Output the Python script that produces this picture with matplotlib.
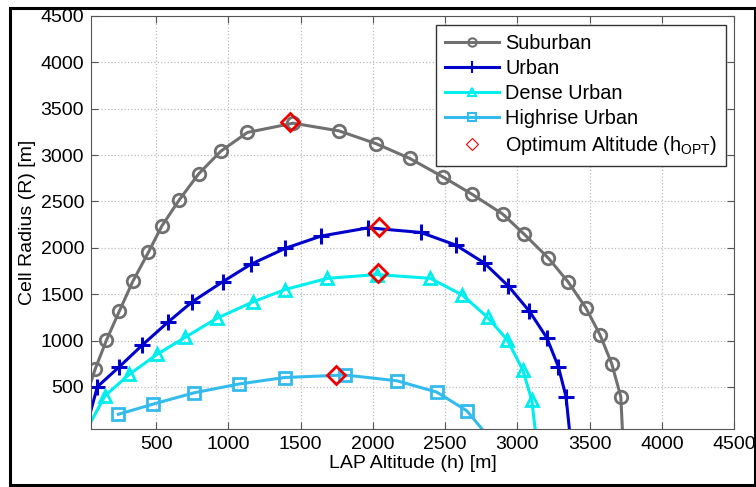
import matplotlib.pyplot as plt
from matplotlib.lines import Line2D
from matplotlib.patches import Rectangle

plt.rcParams['font.family'] = ['Liberation Sans', 'DejaVu Sans']

# curve points; the first / last entries are where the line leaves the axes
suburban_x = [50, 78, 156, 246, 339, 447, 541, 661, 795, 948, 1132, 1448, 1766, 2020,
              2256, 2484, 2689, 2899, 3049, 3215, 3351, 3474, 3572, 3653, 3716, 3727]
suburban_y = [556, 690, 1002, 1318, 1638, 1952, 2238, 2518, 2798, 3042, 3244, 3344, 3261, 3125,
              2964, 2766, 2576, 2364, 2145, 1889, 1634, 1354, 1063, 753, 395, 50]

urban_x = [50, 94, 246, 405, 581, 751, 961, 1155, 1393, 1642, 1969, 2332, 2574, 2772,
           2938, 3083, 3204, 3284, 3337, 3360]
urban_y = [251, 503, 718, 952, 1197, 1419, 1634, 1822, 1994, 2127, 2216, 2166, 2030, 1836,
           1588, 1318, 1031, 718, 395, 50]

dense_x = [50, 147, 315, 507, 701, 920, 1173, 1393, 1685, 2029, 2399, 2620, 2794, 2931,
           3038, 3100, 3123]
dense_y = [125, 406, 636, 852, 1035, 1240, 1419, 1550, 1671, 1712, 1671, 1491, 1251, 1006,
           683, 359, 50]

highrise_x = [239, 481, 765, 1074, 1389, 1808, 2166, 2442, 2650, 2754]
highrise_y = [205, 316, 438, 532, 602, 629, 567, 445, 244, 50]

opt_x = [1430, 2043, 2033, 1743]
opt_y = [3355, 2222, 1725, 630]

labels = ['Suburban', 'Urban', 'Dense Urban', 'Highrise Urban',
          r'Optimum Altitude (h$_\mathregular{OPT}$)']
ticks = [500, 1000, 1500, 2000, 2500, 3000, 3500, 4000, 4500]

fig = plt.figure(figsize=(7.56, 4.87), dpi=100)
ax = fig.add_axes([0.1204, 0.1197, 0.8506, 0.8475])

lw = 2.2
ax.plot(suburban_x, suburban_y, color='#707070', lw=lw, marker='o', ms=9, mew=2,
        mfc='none', markevery=slice(1, -1))
ax.plot(urban_x, urban_y, color='#0000CC', lw=lw, marker='+', ms=11, mew=2.2,
        markevery=slice(1, -1))
ax.plot(dense_x, dense_y, color='#00EEEE', lw=lw, marker='^', ms=9, mew=2,
        mfc='none', markevery=slice(1, -1))
ax.plot(highrise_x, highrise_y, color='#33BBEE', lw=lw, marker='s', ms=8, mew=2,
        mfc='none', markevery=slice(0, -1))
ax.plot(opt_x, opt_y, ls='none', marker='D', ms=9, mew=2, mfc='none', color='#EE0000')

ax.set_xlim(50, 4500)
ax.set_ylim(50, 4500)
ax.set_xticks(ticks)
ax.set_yticks(ticks)
ax.tick_params(direction='in', length=5, top=True, right=True, labelsize=14,
               color='#555555', pad=5)
ax.grid(True, ls=':', color='#BBBBBB', lw=0.9)
for s in ax.spines.values():
    s.set_color('#555555')
ax.set_xlabel('LAP Altitude (h) [m]', fontsize=14, labelpad=2)
ax.set_ylabel('Cell Radius (R) [m]', fontsize=14, labelpad=3)

handles = [
    Line2D([], [], color='#707070', lw=lw, marker='o', ms=6, mew=1.5, mfc='none'),
    Line2D([], [], color='#0000CC', lw=lw, marker='+', ms=8, mew=1.5),
    Line2D([], [], color='#00EEEE', lw=lw, marker='^', ms=6, mew=1.5, mfc='none'),
    Line2D([], [], color='#33BBEE', lw=lw, marker='s', ms=6, mew=1.5, mfc='none'),
    Line2D([], [], ls='none', marker='D', ms=6, mew=0.8, mfc='none', color='#EE0000'),
]
leg = ax.legend(handles, labels, loc='upper right', bbox_to_anchor=(0.988, 0.978),
                borderaxespad=0, fontsize=14.3, handlelength=2.7, handletextpad=0.3,
                labelspacing=0.3, fancybox=False, framealpha=1, borderpad=0.45)
leg.get_frame().set_edgecolor('#333333')
leg.get_frame().set_linewidth(1.0)

fig.patches.append(Rectangle((10 / 756, 2 / 487), 745 / 756, 477 / 487, transform=fig.transFigure,
                             fill=False, ec='black', lw=2.2))

fig.savefig('out.png', dpi=100)
